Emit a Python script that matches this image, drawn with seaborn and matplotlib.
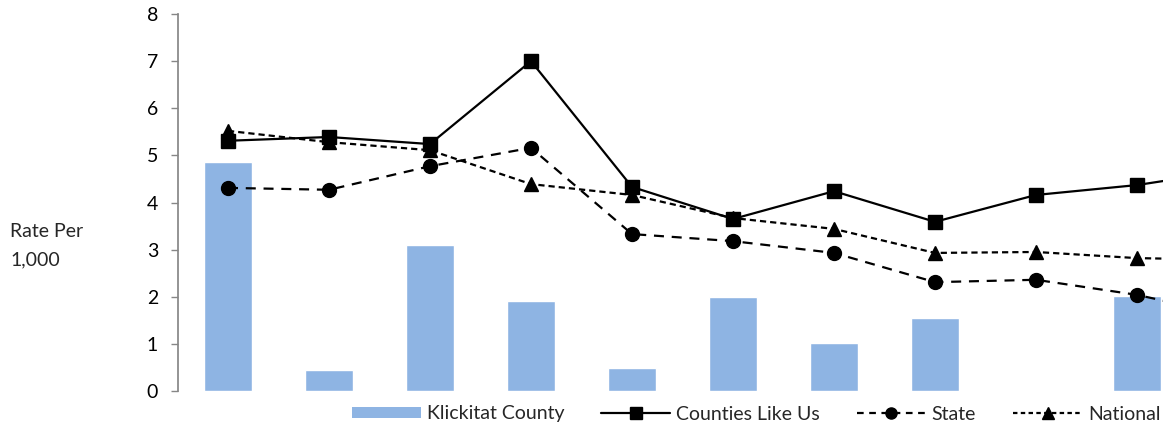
import numpy as np
import pandas as pd
import matplotlib.pyplot as plt
import seaborn as sns
from matplotlib.lines import Line2D
from matplotlib.patches import Patch

# values (last point lies past the cropped right edge)
years = ["2006", "2007", "2008", "2009", "2010", "2011", "2012", "2013", "2014", "2015", "2016"]
klickitat = [4.85, 0.45, 3.10, 1.91, 0.49, 2.00, 1.02, 1.55, np.nan, 2.02, np.nan]
counties_like_us = [5.31, 5.39, 5.24, 7.00, 4.33, 3.65, 4.24, 3.59, 4.16, 4.37, 4.70]
state = [4.31, 4.27, 4.77, 5.16, 3.33, 3.18, 2.93, 2.31, 2.36, 2.04, 1.57]
national = [5.52, 5.28, 5.11, 4.39, 4.16, 3.67, 3.44, 2.93, 2.95, 2.82, 2.78]

df = pd.DataFrame({
    "pos": range(len(years)),
    "Klickitat County": klickitat,
    "Counties Like Us": counties_like_us,
    "State": state,
    "National": national,
})

sns.set_theme(style="white")
plt.rcParams["font.family"] = ["Lato", "DejaVu Sans"]

bar_color = "#8EB4E3"
grey = "#868686"

fig = plt.figure(figsize=(11.63, 4.28), dpi=100)
# the reference is cropped on the right, so the axes run past the figure edge
ax = fig.add_axes([177.5 / 1163, 37 / 428, 1111 / 1163, 377 / 428])

sns.barplot(data=df, x="pos", y="Klickitat County", order=list(range(len(years))),
            color=bar_color, saturation=1, width=0.48, ax=ax)

line_kw = dict(color="black", lw=1.6, markersize=10, clip_on=False)
ax.plot(df["pos"], df["Counties Like Us"], marker="s", linestyle="-", **line_kw)
ax.plot(df["pos"], df["State"], marker="o", dashes=(4.5, 3.5), **line_kw)
ax.plot(df["pos"], df["National"], marker="^", dashes=(2.8, 1.8), **line_kw)

ax.set_xlim(-0.5, len(years) - 0.5)
ax.set_ylim(0, 8)
ax.set_yticks(range(0, 9))
ax.set_xticks([])
ax.set_xlabel("")
ax.set_ylabel("")
for s in ["top", "right", "bottom"]:
    ax.spines[s].set_visible(False)
ax.spines["left"].set_color(grey)
ax.tick_params(axis="y", length=5, width=1, color=grey, labelsize=14,
               labelcolor="black", left=True, pad=9)

fig.text(10 / 1163, 1 - 246 / 428, "Rate Per\n1,000", fontsize=14,
         ha="left", va="center", linespacing=1.8)

handles = [
    Patch(facecolor=bar_color, edgecolor="none"),
    Line2D([], [], color="black", lw=1.6, marker="s", markersize=8),
    Line2D([], [], color="black", lw=1.6, marker="o", markersize=8, dashes=(3, 2.5)),
    Line2D([], [], color="black", lw=1.6, marker="^", markersize=8, dashes=(2, 1.5)),
]
labels = ["Klickitat County", "Counties Like Us", "State", "National"]
fig.legend(handles, labels, loc="center left", bbox_to_anchor=(352 / 1163, 14 / 428),
           ncol=4, frameon=False, fontsize=14, handlelength=3.55, handleheight=0.55,
           handletextpad=0.3, columnspacing=1.9, borderpad=0, borderaxespad=0)

fig.savefig("out.png", dpi=100)
